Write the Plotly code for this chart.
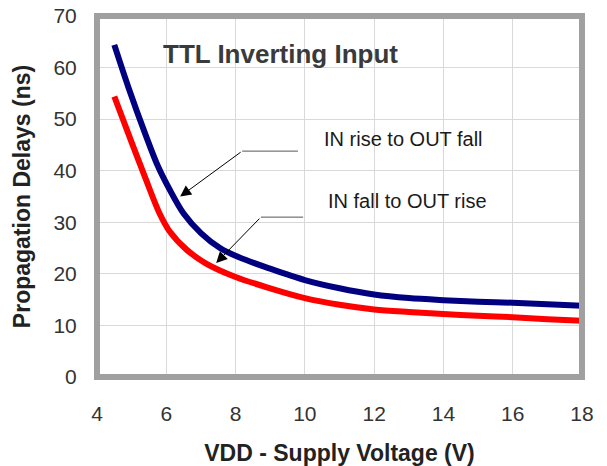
import plotly.graph_objects as go

vdd_rise = [4.5, 4.9, 5.4, 5.75, 6.1, 6.5, 7.0, 7.55, 8.1, 9, 10, 11, 12, 13, 14, 15, 16, 17, 18]
rise_to_fall = [64.4, 56.3, 47.0, 41.0, 36.3, 31.7, 27.9, 25.0, 23.2, 21.0, 18.8, 17.2, 16.0, 15.3, 14.9, 14.6, 14.4, 14.1, 13.8]
vdd_fall = [4.5, 5.0, 5.4, 5.8, 6.1, 6.6, 7.15, 8, 9, 10, 11, 12, 13, 14, 15, 16, 17, 18]
fall_to_rise = [54.4, 45.5, 38.5, 31.8, 28.2, 24.6, 22.0, 19.4, 17.2, 15.3, 14.0, 13.1, 12.6, 12.2, 11.9, 11.6, 11.2, 10.9]

x_ticks = [4, 6, 8, 10, 12, 14, 16, 18]
y_ticks = [0, 10, 20, 30, 40, 50, 60, 70]

font_family = "Liberation Sans, Arial, sans-serif"

fig = go.Figure()
fig.add_trace(go.Scatter(x=vdd_fall, y=fall_to_rise, mode="lines", name="IN fall to OUT rise",
                         line=dict(color="#ff0000", width=6, shape="spline", smoothing=0.9)))
fig.add_trace(go.Scatter(x=vdd_rise, y=rise_to_fall, mode="lines", name="IN rise to OUT fall",
                         line=dict(color="#000080", width=6, shape="spline", smoothing=0.9)))

# leader lines (horizontal segments)
fig.add_shape(type="line", x0=9.80, y0=43.8, x1=8.19, y1=43.8, line=dict(color="#555555", width=1))
fig.add_shape(type="line", x0=9.95, y0=31.0, x1=8.73, y1=31.0, line=dict(color="#555555", width=1))

# diagonal arrows
fig.add_annotation(x=6.40, y=35.0, ax=8.19, ay=43.8, axref="x", ayref="y", text="",
                   showarrow=True, arrowhead=2, arrowsize=2.2, arrowwidth=1, arrowcolor="#000000")
fig.add_annotation(x=7.44, y=22.1, ax=8.73, ay=31.0, axref="x", ayref="y", text="",
                   showarrow=True, arrowhead=2, arrowsize=2.2, arrowwidth=1, arrowcolor="#000000")

fig.add_annotation(x=10.50, y=46.2, text="IN rise to OUT fall", showarrow=False, xanchor="left",
                   font=dict(family=font_family, size=20, color="#1a1a1a"))
fig.add_annotation(x=10.61, y=34.1, text="IN fall to OUT rise", showarrow=False, xanchor="left",
                   font=dict(family=font_family, size=20, color="#1a1a1a"))
fig.add_annotation(x=5.85, y=62.6, text="<b>TTL Inverting Input</b>", showarrow=False, xanchor="left",
                   font=dict(family=font_family, size=26, color="#3a3a3a"))

# thick gray frame
fig.add_shape(type="rect", xref="paper", yref="paper", x0=0, y0=0, x1=1, y1=1,
              line=dict(color="#a0a0a0", width=6), layer="above")

fig.update_layout(
    width=607, height=466,
    margin=dict(l=97, r=25, t=16, b=89, autoexpand=False),
    paper_bgcolor="white", plot_bgcolor="white",
    showlegend=False,
    font=dict(family=font_family, color="#333333"),
)
fig.update_xaxes(range=[4, 18], tickvals=x_ticks, ticks="outside", ticklen=18,
                 tickcolor="rgba(0,0,0,0)", tickfont=dict(size=21, color="#333333"),
                 showgrid=True, gridcolor="#d9d9d9", gridwidth=1, zeroline=False,
                 showline=False, automargin=False,
                 title=dict(text="<b>VDD - Supply Voltage (V)</b>", font=dict(size=23, color="#222222"),
                            standoff=20))
fig.update_yaxes(range=[0, 70], tickvals=y_ticks, ticks="outside", ticklen=15,
                 tickcolor="rgba(0,0,0,0)", tickfont=dict(size=21, color="#333333"),
                 showgrid=True, gridcolor="#d9d9d9", gridwidth=1, zeroline=False,
                 showline=False, automargin=False, ticklabeloverflow="allow",
                 title=dict(text="<b>Propagation Delays (ns)</b>", font=dict(size=23, color="#222222"),
                            standoff=16))

# remove the page's default body margin so the figure fills the window exactly
fig.write_html("out.html", config={"displayModeBar": False},
               post_script="document.body.style.margin='0';")
